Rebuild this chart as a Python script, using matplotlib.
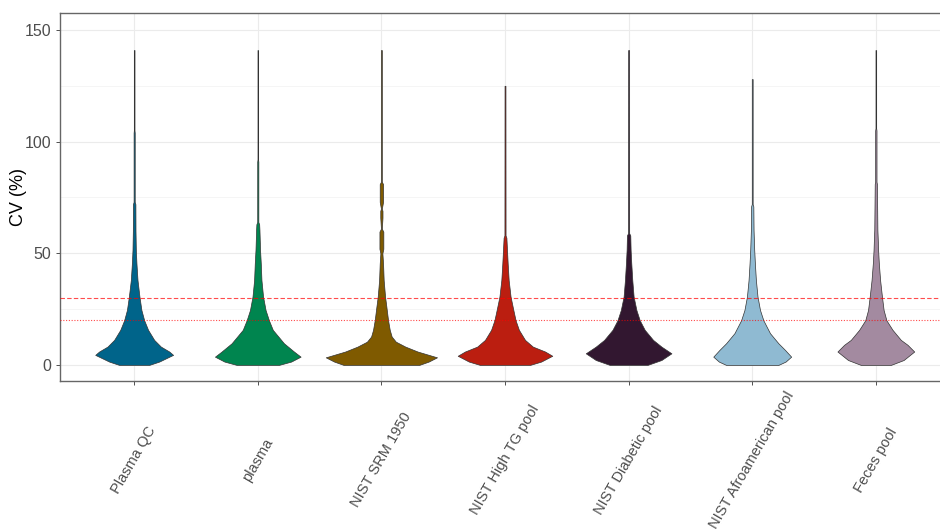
import numpy as np
import matplotlib.pyplot as plt
from matplotlib.transforms import blended_transform_factory

plt.rcParams['font.family'] = ['Liberation Sans', 'DejaVu Sans']

samples = ["Plasma QC", "plasma", "NIST SRM 1950", "NIST High TG pool",
           "NIST Diabetic pool", "NIST Afroamerican pool", "Feces pool"]
colors = ["#00648a", "#00854f", "#7f5a00", "#bb1e10", "#321730", "#8fbad2", "#a38aa0"]

# density profiles of CV (%) per sample: CV level -> relative density (1 = widest violin)
cv_plasma_qc = [0, 1.5, 4.5, 6, 8.2, 11.2, 15.7, 20, 24.6, 30.6, 38, 45.5, 51.5, 60, 72, 73, 104, 105, 141]
dens_plasma_qc = [0.27, 0.45, 0.70, 0.63, 0.48, 0.36, 0.25, 0.18, 0.13, 0.095, 0.06, 0.041, 0.03,
                  0.024, 0.022, 0.01, 0.01, 0.006, 0.006]

cv_plasma = [0, 1.5, 3.7, 6, 9.7, 15.7, 20, 24.6, 30.6, 38, 45.5, 51.5, 60.5, 63, 64, 91, 92, 141]
dens_plasma = [0.38, 0.6, 0.77, 0.65, 0.47, 0.27, 0.2, 0.14, 0.095, 0.066, 0.054, 0.041, 0.03,
               0.025, 0.01, 0.01, 0.005, 0.005]

cv_srm = [0, 1.5, 3.4, 6, 8.2, 10.4, 12.7, 15.7, 20, 26, 30.6, 38, 45.5, 50, 52, 59.7, 61,
          66, 69, 70, 73, 81, 82, 141]
dens_srm = [0.68, 0.85, 1.0, 0.65, 0.43, 0.26, 0.185, 0.15, 0.12, 0.09, 0.066, 0.041, 0.03, 0.018,
            0.035, 0.035, 0.008, 0.02, 0.02, 0.008, 0.03, 0.03, 0.008, 0.008]

cv_high_tg = [0, 1.5, 4.1, 6, 8.2, 11.2, 15.7, 20, 24.6, 30.6, 38, 45.5, 51.5, 57, 58, 125]
dens_high_tg = [0.45, 0.65, 0.85, 0.72, 0.5, 0.36, 0.25, 0.19, 0.15, 0.1, 0.066, 0.048, 0.036,
                0.025, 0.01, 0.008]

cv_diabetic = [0, 2.2, 5.2, 8.2, 11.2, 15.7, 20, 24.6, 30.6, 38, 45.5, 51.5, 58, 59, 141]
dens_diabetic = [0.34, 0.59, 0.77, 0.59, 0.44, 0.29, 0.2, 0.14, 0.09, 0.066, 0.048, 0.036, 0.03,
                 0.01, 0.008]

cv_afro = [0, 1.5, 3.7, 6.7, 9.7, 14.2, 20, 24.6, 30.6, 38, 45.5, 51.5, 60.5, 71, 72, 128]
dens_afro = [0.47, 0.6, 0.7, 0.59, 0.47, 0.32, 0.2, 0.14, 0.095, 0.066, 0.048, 0.036, 0.024,
             0.02, 0.008, 0.008]

cv_feces = [0, 2.2, 6, 9, 11.2, 15.7, 20, 24.6, 30.6, 38, 45.5, 51.5, 56, 60.5, 81, 82, 105, 106, 141]
dens_feces = [0.27, 0.5, 0.69, 0.57, 0.45, 0.3, 0.19, 0.14, 0.11, 0.077, 0.054, 0.041, 0.035,
              0.028, 0.02, 0.012, 0.012, 0.006, 0.006]

profiles = [(cv_plasma_qc, dens_plasma_qc), (cv_plasma, dens_plasma), (cv_srm, dens_srm),
            (cv_high_tg, dens_high_tg), (cv_diabetic, dens_diabetic), (cv_afro, dens_afro),
            (cv_feces, dens_feces)]

fig = plt.figure(figsize=(9.4, 5.3), dpi=100)
ax = fig.add_axes([60 / 940, 1 - 381 / 530, 890 / 940, 368 / 530])

half_width = 0.45
for i, (cv, dens) in enumerate(profiles):
    pos = i + 1
    cv = np.array(cv)
    w = np.array(dens) * half_width
    ax.fill_betweenx(cv, pos - w, pos + w, facecolor=colors[i], edgecolor="#333333",
                     linewidth=0.5, zorder=3)

ax.axhline(30, color="red", alpha=0.7, linestyle=(0, (4, 2)), linewidth=0.8, zorder=4)
ax.axhline(20, color="red", alpha=0.7, linestyle=(0, (1, 1.5)), linewidth=0.8, zorder=4)

ax.set_xlim(0.4, 7.6)
ax.set_ylim(-7.2, 157.6)
ax.set_yticks([0, 50, 100, 150])
ax.set_yticks([25, 75, 125], minor=True)
ax.set_xticks(range(1, len(samples) + 1))
ax.set_xticklabels([])
ax.grid(which="major", color="#ebebeb", linewidth=0.8, zorder=0)
ax.grid(which="minor", axis="y", color="#f4f4f4", linewidth=0.6, zorder=0)
ax.set_axisbelow(True)
ax.tick_params(axis="both", which="major", length=3, width=0.6, color="#333333",
               labelsize=11.5, labelcolor="#4d4d4d")
ax.tick_params(axis="y", which="minor", length=0)
for side in ax.spines.values():
    side.set_color("#666666")
    side.set_linewidth(1.0)

trans = blended_transform_factory(ax.transData, ax.transAxes)
for i, name in enumerate(samples):
    ax.text(i + 1, -0.215, name, rotation=60, ha="center", va="center",
            rotation_mode="anchor", fontsize=10.5, color="#4d4d4d", transform=trans)

ax.set_ylabel("CV (%)", fontsize=13, color="black")
ax.yaxis.set_label_coords(-0.037, 0.5)

fig.savefig("out.png", dpi=100)
